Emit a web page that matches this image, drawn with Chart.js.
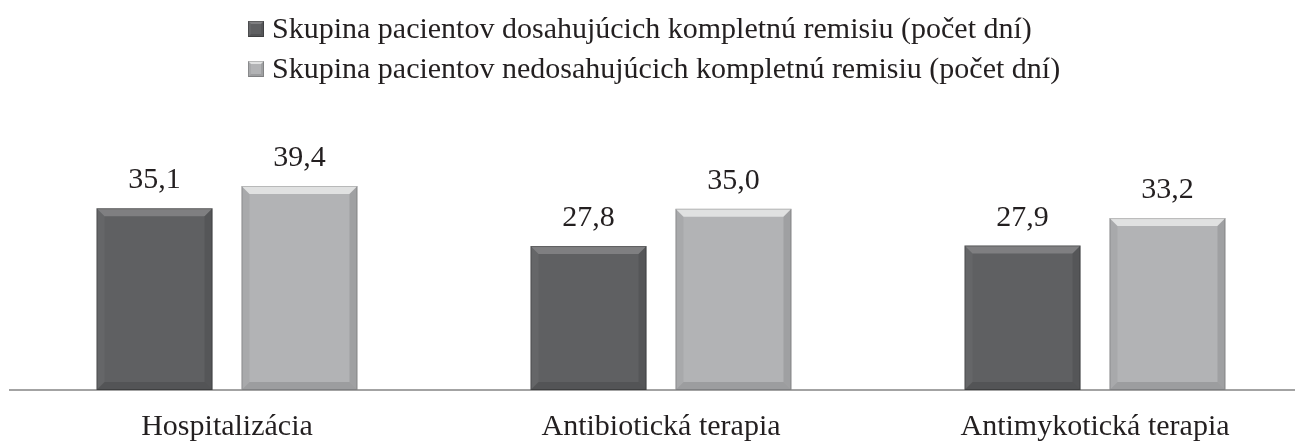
<!DOCTYPE html>
<html>
<head>
<meta charset="utf-8">
<script src="https://cdn.jsdelivr.net/npm/chart.js@4"></script>
<style>
  html, body { margin: 0; padding: 0; background: #fff; overflow: hidden; }
  #wrap { position: relative; width: 1320px; height: 445px; }
</style>
</head>
<body>
<div id="wrap"><canvas id="chart"></canvas></div>
<script>
// Dáta grafu
const kategorie = ['Hospitalizácia', 'Antibiotická terapia', 'Antimykotická terapia'];
const remisiaDni = [35.1, 27.8, 27.9];
const bezRemisieDni = [39.4, 35.0, 33.2];
const nazvySerii = [
    'Skupina pacientov dosahujúcich kompletnú remisiu (počet dní)',
    'Skupina pacientov nedosahujúcich kompletnú remisiu (počet dní)'
];

const FONT = "'Liberation Serif', 'Times New Roman', serif";
const TEXT_COLOR = '#231f20';

// Zkosené okraje stĺpcov (efekt reliéfu)
function drawBevel(ctx, x0, y0, x1, y1, b, light) {
    const poly = (pts, color) => {
        ctx.beginPath();
        ctx.moveTo(pts[0][0], pts[0][1]);
        for (let i = 1; i < pts.length; i++) ctx.lineTo(pts[i][0], pts[i][1]);
        ctx.closePath();
        ctx.fillStyle = color;
        ctx.fill();
    };
    // horná hrana
    poly([[x0, y0], [x1, y0], [x1 - b, y0 + b], [x0 + b, y0 + b]], light ? 'rgba(255,255,255,0.6)' : 'rgba(255,255,255,0.2)');
    // ľavá hrana
    poly([[x0, y0], [x0 + b, y0 + b], [x0 + b, y1 - b], [x0, y1]], light ? 'rgba(0,0,0,0.05)' : 'rgba(255,255,255,0.04)');
    // pravá hrana
    poly([[x1, y0], [x1, y1], [x1 - b, y1 - b], [x1 - b, y0 + b]], 'rgba(0,0,0,0.1)');
    // spodná hrana
    poly([[x0, y1], [x0 + b, y1 - b], [x1 - b, y1 - b], [x1, y1]], 'rgba(0,0,0,0.12)');
    ctx.strokeStyle = light ? 'rgba(0,0,0,0.18)' : 'rgba(0,0,0,0.25)';
    ctx.lineWidth = 1;
    ctx.strokeRect(x0 + 0.5, y0 + 0.5, x1 - x0 - 1, y1 - y0 - 1);
}

const bevelPlugin = {
    id: 'bevel',
    afterDatasetsDraw(chart) {
        const ctx = chart.ctx;
        ctx.save();
        chart.data.datasets.forEach((ds, i) => {
            const meta = chart.getDatasetMeta(i);
            meta.data.forEach((bar, j) => {
                const x0 = bar.x - bar.width / 2;
                const x1 = bar.x + bar.width / 2;
                drawBevel(ctx, x0, bar.y, x1, bar.base, 8, i === 1);
                // hodnota nad stĺpcom
                ctx.fillStyle = TEXT_COLOR;
                ctx.font = '30px ' + FONT;
                ctx.textAlign = 'center';
                ctx.textBaseline = 'alphabetic';
                ctx.fillText(ds.data[j].toFixed(1).replace('.', ','), bar.x, bar.y - 20);
            });
        });
        ctx.restore();
    }
};

const legendPlugin = {
    id: 'stlpcovaLegenda',
    afterDraw(chart) {
        const ctx = chart.ctx;
        ctx.save();
        chart.data.datasets.forEach((ds, i) => {
            const cy = 29 + i * 40;
            const bx = 248, size = 16;
            ctx.fillStyle = ds.backgroundColor;
            ctx.fillRect(bx, cy - size / 2, size, size);
            drawBevel(ctx, bx, cy - size / 2, bx + size, cy + size / 2, 3, i === 1);
            ctx.fillStyle = TEXT_COLOR;
            ctx.font = '30px ' + FONT;
            ctx.textAlign = 'left';
            ctx.textBaseline = 'middle';
            ctx.fillText(ds.label, 272, cy + 1);
        });
        ctx.restore();
    }
};

new Chart(document.getElementById('chart'), {
    type: 'bar',
    data: {
        labels: kategorie,
        datasets: [
            { label: nazvySerii[0], data: remisiaDni, backgroundColor: '#5f6062' },
            { label: nazvySerii[1], data: bezRemisieDni, backgroundColor: '#b2b3b5' }
        ]
    },
    options: {
        responsive: true,
        maintainAspectRatio: false,
        animation: false,
        categoryPercentage: 0.668,
        barPercentage: 0.8,
        layout: { padding: { top: 157, left: 10, right: 8, bottom: 0 } },
        plugins: {
            legend: { display: false },
            tooltip: { enabled: false }
        },
        scales: {
            x: {
                grid: { display: false, drawTicks: false },
                border: { display: true, color: '#a3a3a3', width: 2 },
                ticks: { color: TEXT_COLOR, font: { family: FONT, size: 30 }, padding: 19 },
                afterFit(scale) { scale.height = 55; }
            },
            y: {
                display: false,
                min: 0,
                max: 45
            }
        }
    },
    plugins: [bevelPlugin, legendPlugin]
});
</script>
</body>
</html>
